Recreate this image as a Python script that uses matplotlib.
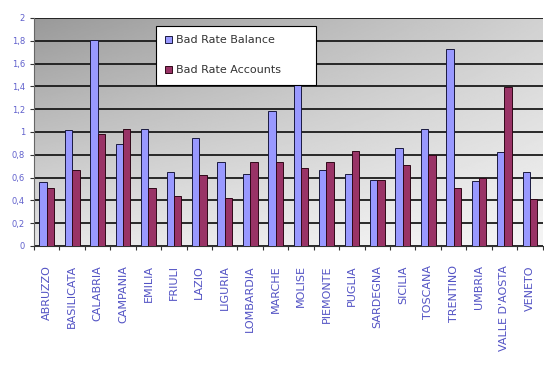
import numpy as np
import matplotlib
matplotlib.use("Agg")
import matplotlib.pyplot as plt
from matplotlib.ticker import FuncFormatter

regions = ["ABRUZZO", "BASILICATA", "CALABRIA", "CAMPANIA", "EMILIA", "FRIULI",
           "LAZIO", "LIGURIA", "LOMBARDIA", "MARCHE", "MOLISE", "PIEMONTE",
           "PUGLIA", "SARDEGNA", "SICILIA", "TOSCANA", "TRENTINO", "UMBRIA",
           "VALLE D'AOSTA", "VENETO"]
bad_rate_balance = [0.56, 1.02, 1.81, 0.89, 1.03, 0.65, 0.95, 0.74, 0.63, 1.18,
                    1.42, 0.67, 0.63, 0.58, 0.86, 1.03, 1.73, 0.57, 0.82, 0.65]
bad_rate_accounts = [0.51, 0.67, 0.98, 1.03, 0.51, 0.44, 0.62, 0.42, 0.74, 0.74,
                     0.68, 0.74, 0.83, 0.58, 0.71, 0.80, 0.51, 0.60, 1.39, 0.41]

label_col = "#5252c4"

fig = plt.figure(figsize=(5.44, 3.67), dpi=100)
ax = fig.add_axes([0.0625, 0.33, 0.935, 0.621])

# gray gradient background: dark top-left, light bottom-right
gx, gy = np.meshgrid(np.linspace(0, 1, 200), np.linspace(0, 1, 200))
grad = ((1 - gx) * (1 - gy) * 0.60 + gx * (1 - gy) * 0.82
        + (1 - gx) * gy * 0.90 + gx * gy * 0.96)
ax.imshow(grad, cmap="gray", vmin=0, vmax=1, extent=[0, 1, 0, 1],
          transform=ax.transAxes, aspect="auto", zorder=0, origin="upper")

x = np.arange(len(regions))
w = 0.29
ax.bar(x - w / 2, bad_rate_balance, w, color="#9999ff", edgecolor="#1a1a40",
       linewidth=0.7, label="Bad Rate Balance", zorder=3)
ax.bar(x + w / 2, bad_rate_accounts, w, color="#993366", edgecolor="#300818",
       linewidth=0.7, label="Bad Rate Accounts", zorder=3)

ax.set_xlim(-0.5, len(regions) - 0.5)
ax.set_ylim(0, 2)
ax.set_yticks(np.arange(0, 2.01, 0.2))
ax.yaxis.set_major_formatter(FuncFormatter(lambda v, p: ("%g" % round(v, 1)).replace(".", ",")))
ax.yaxis.grid(True, color="#1a1a1a", linewidth=1.3, zorder=1)

ax.set_xticks(np.arange(len(regions) + 1) - 0.5, minor=False)
ax.set_xticklabels([])
ax.set_xticks(x, minor=True)
ax.set_xticklabels(regions, minor=True, rotation=90, fontsize=8, color=label_col)
ax.tick_params(axis="x", which="minor", length=0, pad=14)
ax.tick_params(axis="x", which="major", length=3, color="#333333")
ax.tick_params(axis="y", length=3, color="#333333", labelsize=6, labelcolor="#6060cc")

for s in ["top", "right"]:
    ax.spines[s].set_visible(False)
ax.spines["left"].set_color("#666666")
ax.spines["bottom"].set_color("#333333")

leg = ax.legend(loc="upper left", bbox_to_anchor=(0.239, 0.715, 0.316, 0.25),
                mode="expand", fontsize=8, labelcolor="#333333",
                frameon=True, fancybox=False, edgecolor="black", framealpha=1,
                handlelength=0.6, handleheight=0.6, labelspacing=1.8,
                borderpad=0.85, borderaxespad=0, handletextpad=0.4)
leg.get_frame().set_linewidth(0.8)

fig.savefig("out.png", dpi=100)
